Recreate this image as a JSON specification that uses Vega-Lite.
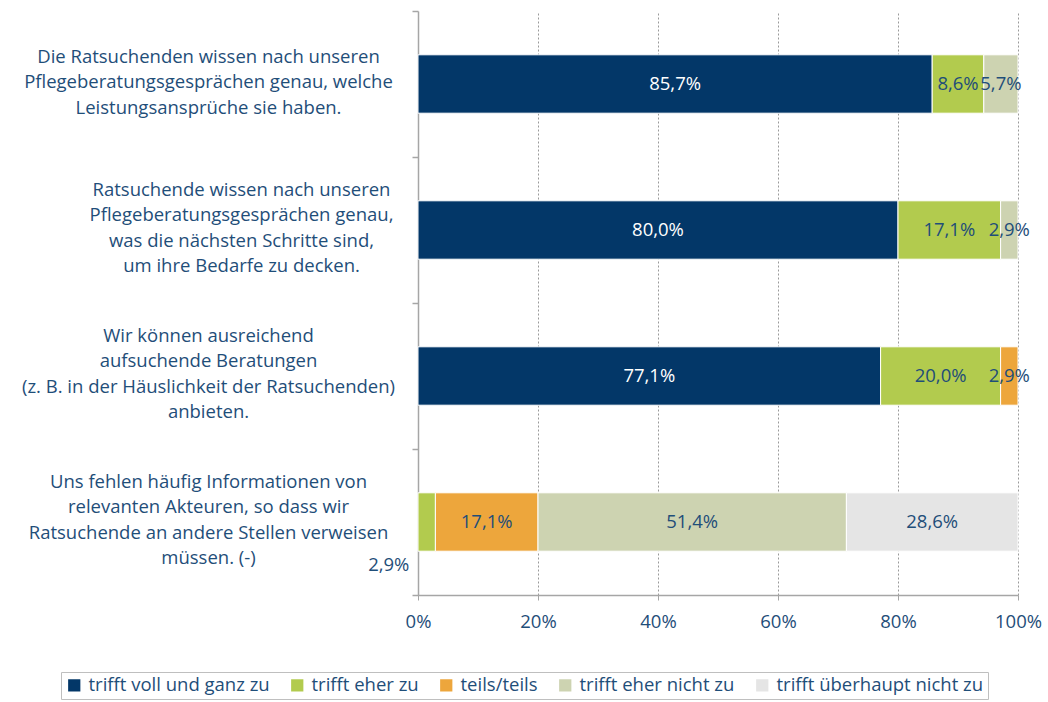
{
  "$schema": "https://vega.github.io/schema/vega-lite/v6.json",
  "width": 600,
  "height": 584,
  "autosize": "none",
  "padding": {"left": 418, "top": 11, "right": 30, "bottom": 107},
  "background": "white",
  "config": {
    "view": {"stroke": null},
    "font": "Open Sans",
    "locale": {"number": {"decimal": ",", "thousands": ".", "grouping": [3], "currency": ["", " €"]}}
  },
  "data": {"values": [
    {"k": 1, "q": "Die Ratsuchenden wissen nach unseren|Pflegeberatungsgesprächen genau, welche|Leistungsansprüche sie haben.", "c": "trifft voll und ganz zu", "o": 1, "v": 0.857},
    {"k": 1, "q": "Die Ratsuchenden wissen nach unseren|Pflegeberatungsgesprächen genau, welche|Leistungsansprüche sie haben.", "c": "trifft eher zu", "o": 2, "v": 0.086},
    {"k": 1, "q": "Die Ratsuchenden wissen nach unseren|Pflegeberatungsgesprächen genau, welche|Leistungsansprüche sie haben.", "c": "trifft eher nicht zu", "o": 4, "v": 0.057},
    {"k": 2, "q": "Ratsuchende wissen nach unseren|Pflegeberatungsgesprächen genau,|was die nächsten Schritte sind,|um ihre Bedarfe zu decken.", "c": "trifft voll und ganz zu", "o": 1, "v": 0.8},
    {"k": 2, "q": "Ratsuchende wissen nach unseren|Pflegeberatungsgesprächen genau,|was die nächsten Schritte sind,|um ihre Bedarfe zu decken.", "c": "trifft eher zu", "o": 2, "v": 0.171},
    {"k": 2, "q": "Ratsuchende wissen nach unseren|Pflegeberatungsgesprächen genau,|was die nächsten Schritte sind,|um ihre Bedarfe zu decken.", "c": "trifft eher nicht zu", "o": 4, "v": 0.029},
    {"k": 3, "q": "Wir können ausreichend|aufsuchende Beratungen|(z. B. in der Häuslichkeit der Ratsuchenden)|anbieten.", "c": "trifft voll und ganz zu", "o": 1, "v": 0.771},
    {"k": 3, "q": "Wir können ausreichend|aufsuchende Beratungen|(z. B. in der Häuslichkeit der Ratsuchenden)|anbieten.", "c": "trifft eher zu", "o": 2, "v": 0.2},
    {"k": 3, "q": "Wir können ausreichend|aufsuchende Beratungen|(z. B. in der Häuslichkeit der Ratsuchenden)|anbieten.", "c": "teils/teils", "o": 3, "v": 0.029},
    {"k": 4, "q": "Uns fehlen häufig Informationen von|relevanten Akteuren, so dass wir|Ratsuchende an andere Stellen verweisen|müssen. (-)", "c": "trifft eher zu", "o": 2, "v": 0.029},
    {"k": 4, "q": "Uns fehlen häufig Informationen von|relevanten Akteuren, so dass wir|Ratsuchende an andere Stellen verweisen|müssen. (-)", "c": "teils/teils", "o": 3, "v": 0.171},
    {"k": 4, "q": "Uns fehlen häufig Informationen von|relevanten Akteuren, so dass wir|Ratsuchende an andere Stellen verweisen|müssen. (-)", "c": "trifft eher nicht zu", "o": 4, "v": 0.514},
    {"k": 4, "q": "Uns fehlen häufig Informationen von|relevanten Akteuren, so dass wir|Ratsuchende an andere Stellen verweisen|müssen. (-)", "c": "trifft überhaupt nicht zu", "o": 5, "v": 0.286}
  ]},
  "encoding": {
    "y": {
      "field": "q", "type": "nominal", "sort": null,
      "scale": {"paddingInner": 0, "paddingOuter": 0},
      "axis": {
        "title": null,
        "labelExpr": "split(datum.label, '|')",
        "labelAlign": "center",
        "labelBaseline": "middle",
        "labelPadding": {"condition": {"test": "datum.value == 'Ratsuchende wissen nach unseren|Pflegeberatungsgesprächen genau,|was die nächsten Schritte sind,|um ihre Bedarfe zu decken.'", "value": 171}, "value": 204},
        "labelOffset": {"condition": {"test": "datum.value == 'Die Ratsuchenden wissen nach unseren|Pflegeberatungsgesprächen genau, welche|Leistungsansprüche sie haben.'", "value": -28}, "value": -41},
        "labelFont": "Open Sans",
        "labelFontSize": 18.5,
        "labelLineHeight": 25.5,
        "labelColor": "#1F4E79",
        "labelLimit": 0,
        "labelOverlap": false,
        "tickBand": "extent",
        "ticks": true,
        "tickSize": 6,
        "tickColor": "#A6A6A6",
        "tickWidth": 1.5,
        "domainColor": "#A6A6A6",
        "domainWidth": 1.5,
        "grid": false
      }
    }
  },
  "layer": [
    {
      "mark": {"type": "bar", "stroke": "white", "strokeWidth": 1, "height": {"band": 0.4}},
      "encoding": {
        "x": {
          "field": "v", "type": "quantitative", "stack": "zero",
          "scale": {"domain": [0, 1], "nice": false},
          "axis": {
            "title": null,
            "format": ".0%",
            "values": [0, 0.2, 0.4, 0.6, 0.8, 1],
            "grid": true,
            "gridDash": [2, 2],
            "gridColor": "#9A9A9A",
            "domainColor": "#A6A6A6",
            "domainWidth": 1.5,
            "tickColor": "#A6A6A6",
            "tickSize": 5,
            "labelFlush": false,
            "labelFont": "Open Sans",
            "labelFontSize": 18.5,
            "labelColor": "#1F4E79",
            "labelPadding": 12
          }
        },
        "order": {"field": "o", "type": "quantitative"},
        "color": {
          "field": "c", "type": "nominal",
          "scale": {
            "domain": ["trifft voll und ganz zu", "trifft eher zu", "teils/teils", "trifft eher nicht zu", "trifft überhaupt nicht zu"],
            "range": ["#033768", "#B2CB4E", "#EDA63C", "#CDD3B1", "#E5E5E5"]
          },
          "legend": {
            "orient": "none",
            "legendX": -357,
            "legendY": 661,
            "direction": "horizontal",
            "title": null,
            "symbolType": "square",
            "symbolSize": 150,
            "symbolStrokeWidth": 0,
            "labelFont": "Open Sans",
            "labelFontSize": 18.5,
            "labelColor": "#1F4E79",
            "labelLimit": 0,
            "labelOffset": 5,
            "columnPadding": 18,
            "strokeColor": "#BFBFBF",
            "padding": 4
          }
        }
      }
    },
    {
      "mark": {"type": "text", "font": "Open Sans", "fontSize": 18.5, "baseline": "middle", "align": "center"},
      "encoding": {
        "x": {"field": "v", "type": "quantitative", "stack": "zero", "bandPosition": 0.5},
        "order": {"field": "o", "type": "quantitative"},
        "detail": {"field": "c", "type": "nominal"},
        "text": {"condition": {"test": "datum.k == 4 && datum.c == 'trifft eher zu'", "value": ""}, "field": "v", "type": "quantitative", "format": ".1%"},
        "color": {"condition": {"test": "datum.c == 'trifft voll und ganz zu'", "value": "white"}, "value": "#1F4E79"}
      }
    },
    {
      "transform": [{"filter": "datum.k == 4 && datum.c == 'trifft eher zu'"}],
      "mark": {"type": "text", "font": "Open Sans", "fontSize": 18.5, "baseline": "middle", "align": "right", "dx": -26, "dy": 43, "color": "#1F4E79"},
      "encoding": {
        "x": {"field": "v", "type": "quantitative"},
        "text": {"field": "v", "type": "quantitative", "format": ".1%"}
      }
    }
  ]
}
